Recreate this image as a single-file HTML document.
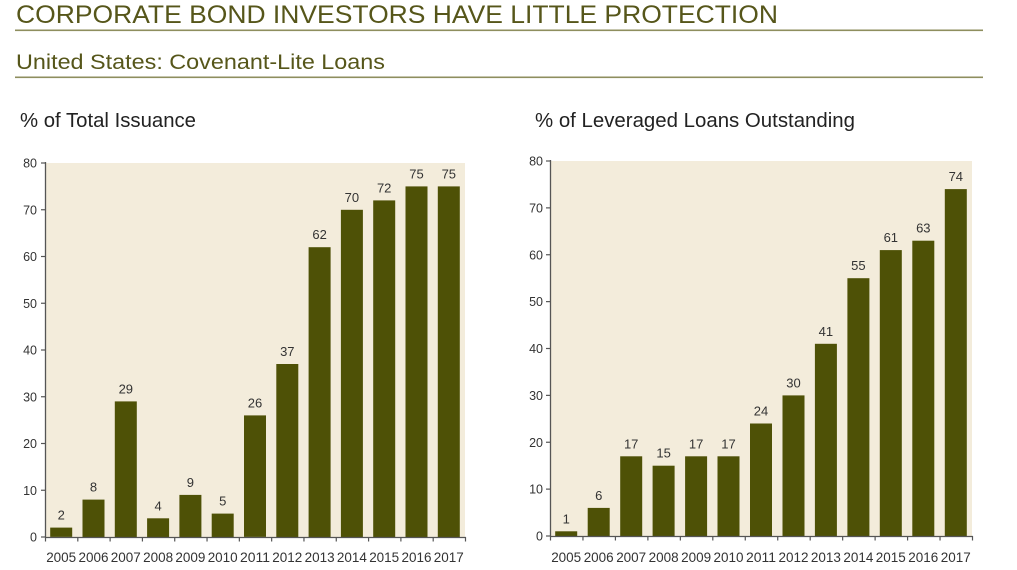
<!DOCTYPE html>
<html>
<head>
<meta charset="utf-8">
<style>
html,body{margin:0;padding:0;background:#fff;}
body{width:1017px;height:570px;overflow:hidden;}
svg{display:block;font-family:"Liberation Sans",Arial,sans-serif;}
</style>
</head>
<body>
<svg width="1017" height="570" viewBox="0 0 1017 570" xmlns="http://www.w3.org/2000/svg">
<rect width="1017" height="570" fill="#fff"/>
<!-- Titles -->
<text x="16" y="23" font-size="25" fill="#56561a" textLength="762" lengthAdjust="spacingAndGlyphs">CORPORATE BOND INVESTORS HAVE LITTLE PROTECTION</text>
<rect x="15" y="29.5" width="968" height="1.6" fill="#8e8e5e"/>
<text x="16" y="69" font-size="21" fill="#56561a" textLength="369" lengthAdjust="spacingAndGlyphs">United States: Covenant-Lite Loans</text>
<rect x="15" y="76.5" width="968" height="1.6" fill="#8e8e5e"/>
<text x="20" y="127" font-size="20" fill="#222" textLength="176" lengthAdjust="spacingAndGlyphs">% of Total Issuance</text>
<text x="535" y="127" font-size="20" fill="#222" textLength="320" lengthAdjust="spacingAndGlyphs">% of Leveraged Loans Outstanding</text>

<g id="charts"></g>
</svg>
<script>
(function(){
var NS="http://www.w3.org/2000/svg";
var g=document.getElementById("charts");
function el(t,a,txt){var e=document.createElementNS(NS,t);for(var k in a)e.setAttribute(k,a[k]);if(txt!==undefined)e.textContent=txt;g.appendChild(e);return e;}
var years=["2005","2006","2007","2008","2009","2010","2011","2012","2013","2014","2015","2016","2017"];
function chart(x0,x1,top,zero,vals,labX){
  var sc=(zero-top)/80;
  el("rect",{x:x0+1,y:top,width:x1-x0-1,height:zero-top,fill:"#f3ecdb"});
  var cw=(x1-x0)/13;
  for(var i=0;i<13;i++){
    var cx=x0+cw*(i+0.5);
    var h=vals[i]*sc;
    el("rect",{x:(cx-11).toFixed(1),y:(zero-h).toFixed(1),width:22,height:h.toFixed(1),fill:"#4e5106"});
    el("text",{x:cx.toFixed(1),y:(zero-h-8).toFixed(1),"font-size":"13","text-anchor":"middle",fill:"#333"},String(vals[i]));
    el("text",{x:cx.toFixed(1),y:562,"font-size":"13.5","text-anchor":"middle",fill:"#333",textLength:"30",lengthAdjust:"spacingAndGlyphs"},years[i]);
  }
  // axes
  el("line",{x1:x0+0.5,y1:top-1,x2:x0+0.5,y2:zero,stroke:"#555","stroke-width":"1.3"});
  el("line",{x1:x0,y1:zero+0.5,x2:x1+1,y2:zero+0.5,stroke:"#555","stroke-width":"1.3"});
  for(var v=0;v<=80;v+=10){
    var y=zero-v*sc;
    el("line",{x1:x0-4,y1:y,x2:x0+0.5,y2:y,stroke:"#555","stroke-width":"1.2"});
    el("text",{x:labX,y:(y+4.5).toFixed(1),"font-size":"12.5","text-anchor":"end",fill:"#333"},String(v));
  }
  for(var j=0;j<=13;j++){
    var tx=x0+cw*j+0.5;
    el("line",{x1:tx,y1:zero,x2:tx,y2:zero+4.5,stroke:"#555","stroke-width":"1.2"});
  }
}
chart(45,465,163,537,[2,8,29,4,9,5,26,37,62,70,72,75,75],37);
chart(550,972,161,536,[1,6,17,15,17,17,24,30,41,55,61,63,74],543);
})();
</script>
</body>
</html>
